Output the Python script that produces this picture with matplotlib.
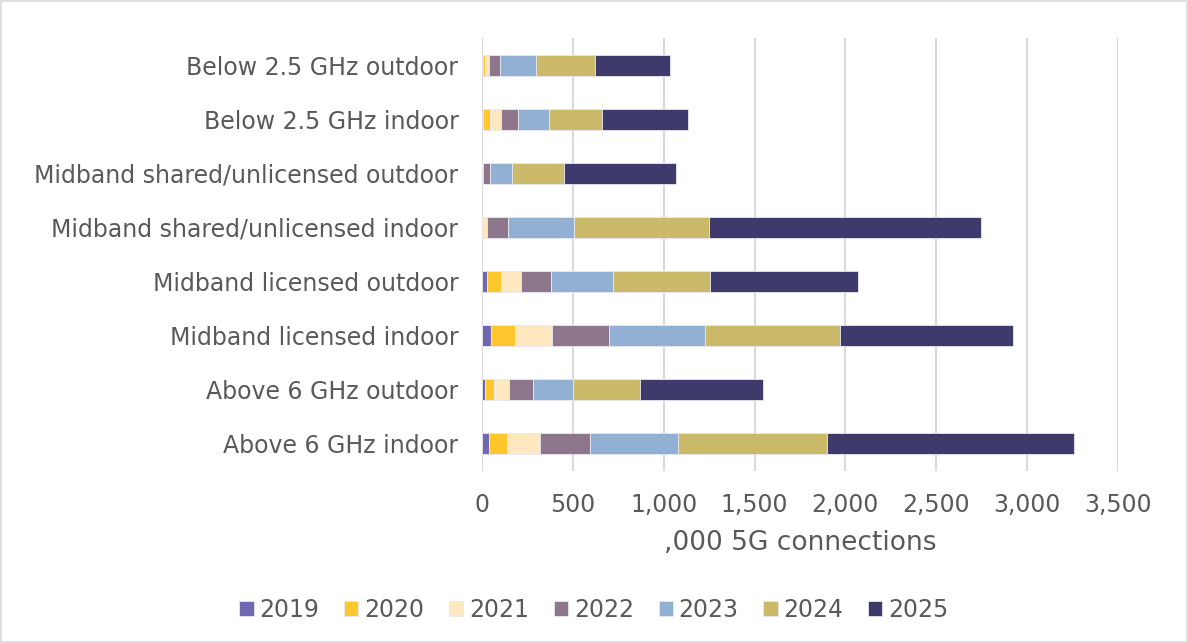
import matplotlib.pyplot as plt
import numpy as np
from matplotlib.patches import Rectangle

categories = ["Below 2.5 GHz outdoor", "Below 2.5 GHz indoor",
              "Midband shared/unlicensed outdoor", "Midband shared/unlicensed indoor",
              "Midband licensed outdoor", "Midband licensed indoor",
              "Above 6 GHz outdoor", "Above 6 GHz indoor"]
years = ["2019", "2020", "2021", "2022", "2023", "2024", "2025"]

# ,000 5G connections per year (stacked)
y2019 = [3, 8, 0, 0, 28, 51, 18, 39]
y2020 = [14, 37, 2, 3, 79, 132, 50, 97]
y2021 = [22, 57, 5, 22, 108, 204, 81, 182]
y2022 = [61, 96, 35, 118, 167, 314, 134, 279]
y2023 = [195, 171, 123, 366, 340, 528, 217, 481]
y2024 = [329, 289, 289, 739, 533, 739, 368, 822]
y2025 = [410, 473, 613, 1497, 815, 952, 681, 1358]

series = [y2019, y2020, y2021, y2022, y2023, y2024, y2025]
colors = ["#7068B0", "#FFC72C", "#FFE8BF", "#8E778C", "#92B0D4", "#CBB96A", "#3E3A6B"]

text_color = "#595959"
plt.rcParams['font.family'] = ['DejaVu Sans']

fig = plt.figure(figsize=(11.88, 6.43), dpi=100)
ax = fig.add_axes([482 / 1188, 1 - 471 / 643, (1118 - 482) / 1188, (471 - 38) / 643])

pos = np.arange(len(categories))[::-1]
left = np.zeros(len(categories))
for yr, vals, c in zip(years, series, colors):
    vals = np.array(vals, dtype=float)
    ax.barh(pos, vals, left=left, height=0.39, color=c, label=yr,
            edgecolor="#E8E8F0", linewidth=0.6, zorder=3)
    left += vals

ax.set_xlim(0, 3500)
ax.set_ylim(-0.5, len(categories) - 0.5)
ax.set_xticks(np.arange(0, 3501, 500))
ax.set_xticklabels([f"{v:,}" for v in range(0, 3501, 500)])
ax.set_yticks(pos)
ax.set_yticklabels(categories)
ax.tick_params(axis="both", length=0, labelsize=17, colors=text_color)
ax.tick_params(axis="x", pad=16)
ax.tick_params(axis="y", pad=17)
ax.grid(axis="x", color="#D9D9D9", linewidth=1.5, zorder=0)
for s in ax.spines.values():
    s.set_visible(False)
ax.set_xlabel(",000 5G connections", fontsize=19, color=text_color, labelpad=9)

fig.legend(loc="lower center", bbox_to_anchor=(0.5, 0.0), ncol=7, frameon=False,
           fontsize=17, labelcolor=text_color, handlelength=0.6, handleheight=0.6,
           handletextpad=0.25, columnspacing=1.05)

fig.patches.append(Rectangle((0.001, 0.001), 0.998, 0.998, transform=fig.transFigure,
                             fill=False, edgecolor="#D9D9D9", linewidth=1.2))

fig.savefig("out.png", dpi=100)
